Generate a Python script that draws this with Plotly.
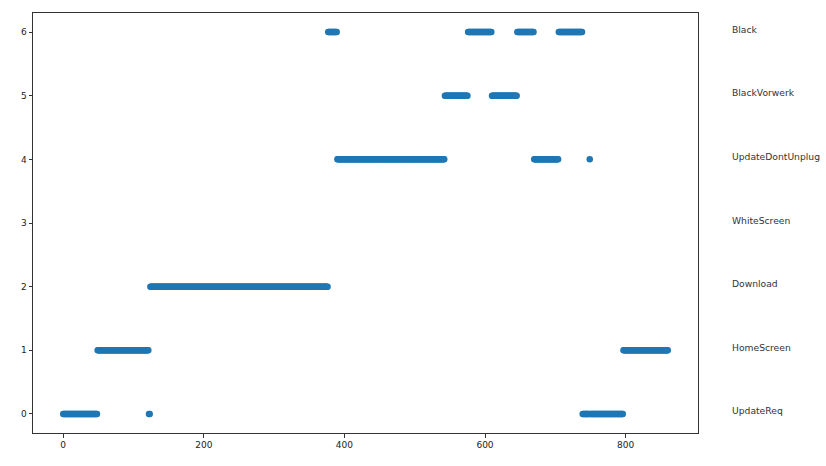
import numpy as np
import plotly.graph_objects as go

# State label for each numeric level
state_labels = ["UpdateReq", "HomeScreen", "Download", "WhiteScreen",
                "UpdateDontUnplug", "BlackVorwerk", "Black"]

# Run-length encoded state sequence (frame index -> state)
run_starts = [0, 49, 122, 124, 377, 390, 543, 576, 610, 646, 670, 705, 739, 749, 750, 797]
run_states = [0, 1, 0, 2, 6, 4, 5, 6, 5, 6, 4, 6, 0, 4, 0, 1]
last_frame = 860

x_ticks = [0, 200, 400, 600, 800]
y_ticks = [0, 1, 2, 3, 4, 5, 6]

# expand runs into per-frame points
xs, ys = [], []
bounds = run_starts + [last_frame + 1]
for i, s in enumerate(run_states):
    for f in range(bounds[i], bounds[i + 1]):
        xs.append(f)
        ys.append(s)

fig = go.Figure()
fig.add_trace(go.Scatter(
    x=xs, y=ys, mode="markers",
    marker=dict(color="#1f77b4", size=6.5, line=dict(width=0)),
    showlegend=False, hoverinfo="skip",
))

axis_common = dict(
    showgrid=False, zeroline=False, showline=True, linecolor="#333333",
    linewidth=1, mirror=True, ticks="outside", ticklen=3.5, tickwidth=1,
    tickcolor="#333333", tickfont=dict(family="DejaVu Sans", size=9, color="#222222"),
)
fig.update_xaxes(range=[-43, 903], tickvals=x_ticks, **axis_common)
fig.update_yaxes(range=[-0.3, 6.3], tickvals=y_ticks, **axis_common)

for lvl, lab in enumerate(state_labels):
    fig.add_annotation(
        x=1.048, xref="paper", y=lvl, yref="y", yshift=3,
        text=lab, showarrow=False, xanchor="left",
        font=dict(family="DejaVu Sans", size=9.2, color="#333333"),
    )

fig.update_layout(
    width=826, height=466,
    margin=dict(l=33, r=128, t=13, b=33, autoexpand=False),
    plot_bgcolor="white", paper_bgcolor="white",
)

fig.write_html("out.html", config={"displayModeBar": False},
               post_script="document.body.style.margin='0';")
